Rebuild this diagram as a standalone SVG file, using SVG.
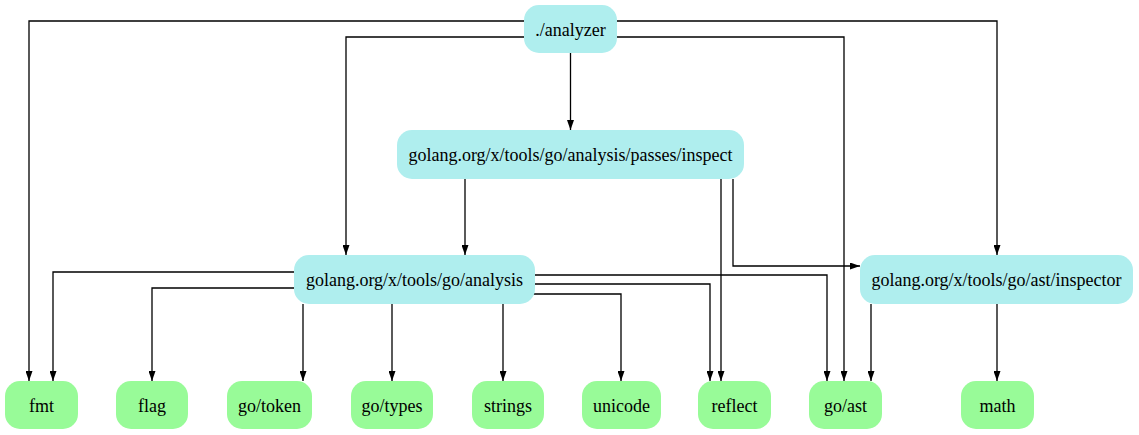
<svg xmlns="http://www.w3.org/2000/svg" width="1139" height="435" viewBox="0 0 1139 435">
<style>
.c{fill:#afeeee}
.g{fill:#98fb98}
text{font-family:"Liberation Serif","Times New Roman",serif;font-size:18px;fill:#000;text-anchor:middle}
.e path{fill:none;stroke:#000;stroke-width:1.3;marker-end:url(#a)}
</style>
<defs>
<marker id="a" markerUnits="userSpaceOnUse" markerWidth="10" markerHeight="7" refX="10" refY="3.5" orient="auto">
<path d="M0,0 L10,3.5 L0,7 z" fill="#000"/>
</marker>
</defs>
<rect width="1139" height="435" fill="#fff"/>
<g class="e" id="edges">
<path d="M524,21 H29 V381"/>
<path d="M524,37 H346 V255"/>
<path d="M617,37 H844 V381"/>
<path d="M617,21 H997 V255"/>
<path d="M570.5,53 V130"/>
<path d="M465,179 V255"/>
<path d="M721,179 V381"/>
<path d="M733,179 V266 H860"/>
<path d="M296,272 H53 V381"/>
<path d="M296,288 H152 V381"/>
<path d="M303,304 V381"/>
<path d="M392,304 V381"/>
<path d="M503,304 V381"/>
<path d="M533,275 H827 V381"/>
<path d="M533,284 H710 V381"/>
<path d="M531,294 H621 V381"/>
<path d="M871,304 V381"/>
<path d="M997,304 V381"/>
</g>
<g id="analyzer"><rect class="c" x="524" y="5" width="93" height="48" rx="15"/><text x="570.5" y="35.5">./analyzer</text></g>
<g id="passes_inspect"><rect class="c" x="397" y="130" width="347" height="49" rx="15"/><text x="570.5" y="161">golang.org/x/tools/go/analysis/passes/inspect</text></g>
<g id="analysis"><rect class="c" x="294" y="255" width="241" height="49" rx="15"/><text x="414.5" y="286">golang.org/x/tools/go/analysis</text></g>
<g id="inspector"><rect class="c" x="860" y="255" width="273" height="49" rx="15"/><text x="996.5" y="286">golang.org/x/tools/go/ast/inspector</text></g>
<g id="fmt"><rect class="g" x="5" y="381" width="73" height="48" rx="15"/><text x="41.5" y="411.5">fmt</text></g>
<g id="flag"><rect class="g" x="116" y="381" width="72" height="48" rx="15"/><text x="152" y="411.5">flag</text></g>
<g id="go_token"><rect class="g" x="227" y="381" width="85" height="48" rx="15"/><text x="269.5" y="411.5">go/token</text></g>
<g id="go_types"><rect class="g" x="351" y="381" width="82" height="48" rx="15"/><text x="392" y="411.5">go/types</text></g>
<g id="strings"><rect class="g" x="472" y="381" width="72" height="48" rx="15"/><text x="508" y="411.5">strings</text></g>
<g id="unicode"><rect class="g" x="582" y="381" width="79" height="48" rx="15"/><text x="621.5" y="411.5">unicode</text></g>
<g id="reflect"><rect class="g" x="698" y="381" width="73" height="48" rx="15"/><text x="734.5" y="411.5">reflect</text></g>
<g id="go_ast"><rect class="g" x="809" y="381" width="73" height="48" rx="15"/><text x="845.5" y="411.5">go/ast</text></g>
<g id="math"><rect class="g" x="961" y="381" width="73" height="48" rx="15"/><text x="997.5" y="411.5">math</text></g>
</svg>
